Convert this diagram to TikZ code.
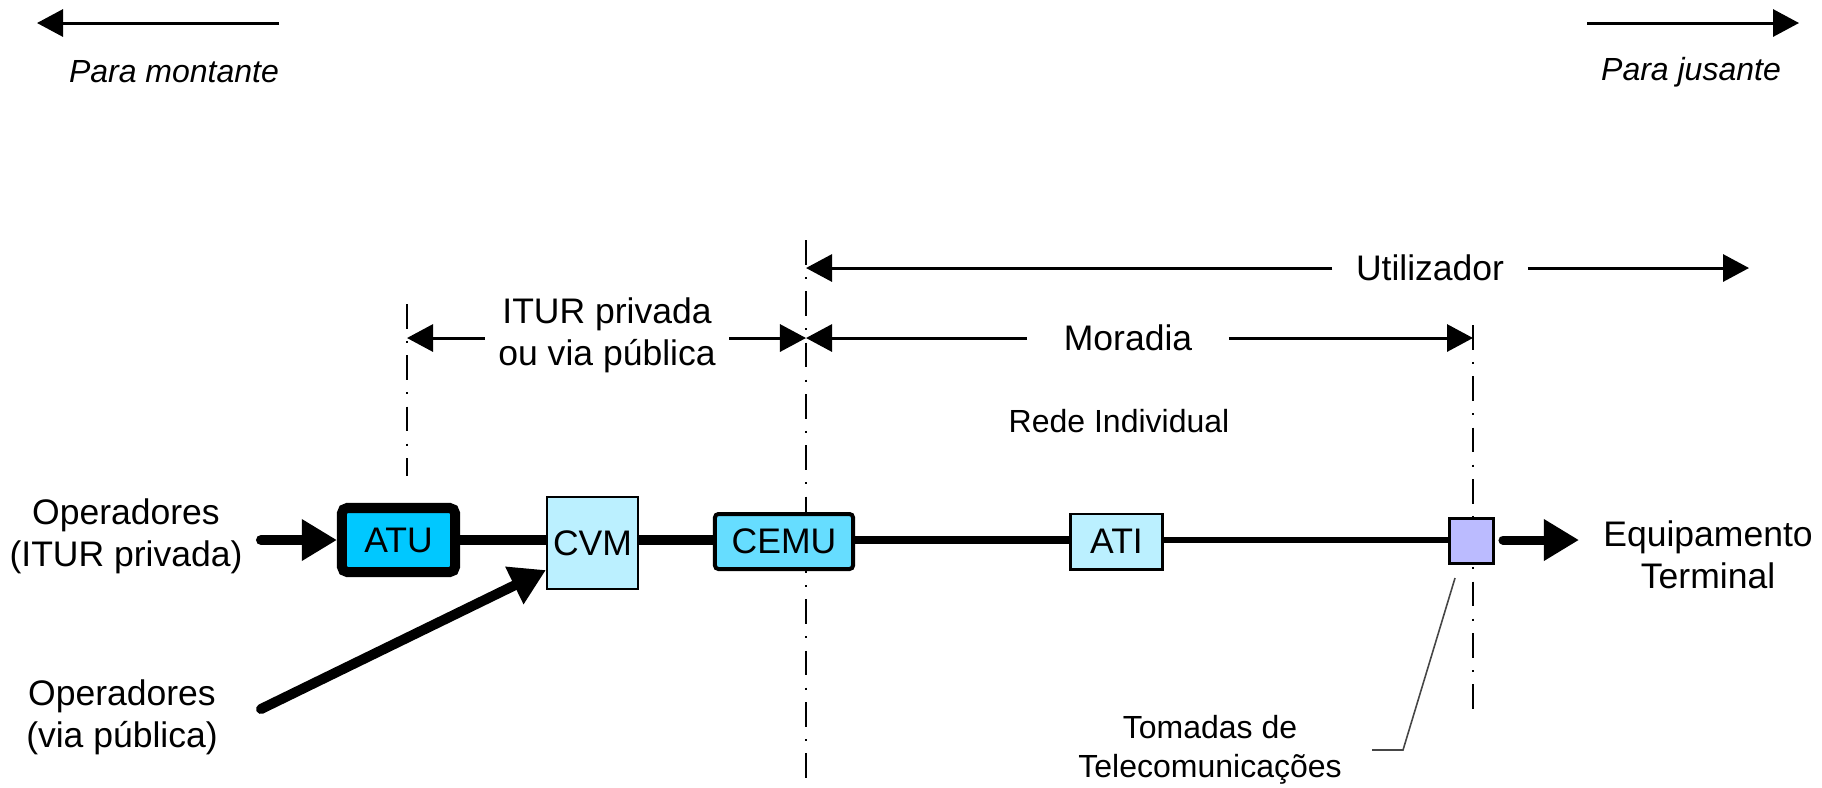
\documentclass[tikz,border=0pt]{standalone}
\usepackage{fontspec}
\setmainfont{Liberation Sans}
\usetikzlibrary{arrows.meta}
\definecolor{atuc}{RGB}{0,200,255}
\definecolor{cemuc}{RGB}{102,221,255}
\definecolor{lightc}{RGB}{187,240,255}
\definecolor{tomc}{RGB}{187,187,255}
\definecolor{leadc}{RGB}{70,70,70}
\tikzset{
  lbl/.style={font=\fontsize{10.1pt}{12pt}\selectfont, align=center, inner sep=0pt},
  sml/.style={font=\fontsize{9.1pt}{11.1pt}\selectfont, align=center, inner sep=0pt},
  dimarr/.style={line width=0.85pt, -{Triangle[length=7.4pt,width=7.7pt]}},
  bigarr/.style={-{Triangle[length=10pt,width=11.2pt]}},
  dashdot/.style={line width=0.6pt, dash pattern=on 7pt off 3.5pt on 0.6pt off 3.5pt},
  boxbase/.style={draw, inner sep=0pt, font=\fontsize{10.1pt}{12pt}\selectfont},
}
\begin{document}
\begin{tikzpicture}[x=0.01cm, y=-0.01cm]
\useasboundingbox (0,0) rectangle (1822,787);

% direction arrows at top
\node[lbl, font=\fontsize{9.1pt}{11pt}\selectfont\itshape] (mont) at (174,72) {Para montante};
\node[lbl, font=\fontsize{9.1pt}{11pt}\selectfont\itshape] (jus) at (1691,72) {Para jusante};
\coordinate (montA) at (279,23);
\coordinate (montB) at (37,23);
\coordinate (jusA) at (1587,23);
\coordinate (jusB) at (1799,23);
\draw[dimarr] (montA) -- (montB);
\draw[dimarr] (jusA) -- (jusB);

% dash-dot boundary lines
\coordinate (l1t) at (407,304);
\coordinate (l1b) at (407,476);
\coordinate (l2t) at (806,240);
\coordinate (l2b) at (806,787);
\coordinate (l3t) at (1473,325);
\coordinate (l3b) at (1473,715);
\draw[dashdot] (l1t) -- (l1b);
\draw[dashdot] (l2t) -- (l2b);
\draw[dashdot] (l3t) -- (l3b);

% dimension arrows
\node[lbl, inner xsep=0.23cm] (util) at (1430,268) {Utilizador};
\coordinate (uR) at (1749,268);
\draw[dimarr] (util.west) -- (util.west -| l2t);
\draw[dimarr] (util.east) -- (uR);

\node[lbl, inner xsep=0.36cm] (mor) at (1128,338) {Moradia};
\draw[dimarr] (mor.west) -- (mor.west -| l2t);
\draw[dimarr] (mor.east) -- (mor.east -| l3t);

\node[lbl, inner xsep=0.13cm] (itur) at (607,335) {ITUR privada\\ou via pública};
\draw[dimarr] (itur.west |- mor) -- (l1t |- mor);
\draw[dimarr] (itur.east |- mor) -- (l2t |- mor);

\node[sml] (rede) at (1119,421) {Rede Individual};

% boxes
\node[boxbase, fill=atuc, line width=2.85pt, rounded corners=1.5pt,
      minimum width=1.13cm, minimum height=0.64cm] (atu) at (398.5,540) {ATU};
\node[boxbase, fill=lightc, line width=0.6pt,
      minimum width=0.91cm, minimum height=0.92cm] (cvm) at (592.5,543) {CVM};
\node[boxbase, fill=cemuc, line width=1.14pt, rounded corners=1pt,
      minimum width=1.38cm, minimum height=0.55cm] (cemu) at (784,541.5) {CEMU};
\node[boxbase, fill=lightc, line width=0.85pt,
      minimum width=0.91cm, minimum height=0.55cm] (ati) at (1116.5,541.5) {ATI};
\node[boxbase, fill=tomc, line width=0.85pt,
      minimum width=0.44cm, minimum height=0.45cm] (tom) at (1471,540.5) {};

% main line
\draw[line width=2.85pt] (atu.east) -- (atu.east -| cvm.west);
\draw[line width=2.85pt] (cvm.east |- atu) -- (cemu.west |- atu);
\draw[line width=2.3pt] (cemu.east |- atu) -- (ati.west |- atu);
\draw[line width=1.7pt] (ati.east |- atu) -- (tom.west |- atu);

% inputs and output
\node[lbl, align=center] (opi) at (126,536) {Operadores\\(ITUR privada)};
\node[lbl, align=center] (opv) at (122,717) {Operadores\\(via pública)};
\node[lbl, align=center] (eqt) at (1708,555) {Equipamento\\Terminal};
\coordinate (opiS) at (261,540);
\coordinate (opvS) at (261,709);
\coordinate (eqtE) at (1579,540);
\draw[line width=2.85pt, line cap=round, bigarr] (opiS) -- (atu.west);
\draw[line width=2.85pt, line cap=round, bigarr] (opvS) -- ([yshift=5.7pt]cvm.south west);
\draw[line width=2.56pt, line cap=round, bigarr, shorten <=2.4pt] (tom.east |- atu) -- (eqtE);

% socket label
\node[sml] (tomt) at (1210,750) {Tomadas de\\Telecomunicações};
\coordinate (leadA) at (1455,578);
\coordinate (leadB) at (1403,750);
\coordinate (leadC) at (1372,750);
\draw[leadc, line width=0.45pt] (leadA) -- (leadB) -- (leadC);
\end{tikzpicture}
\end{document}
